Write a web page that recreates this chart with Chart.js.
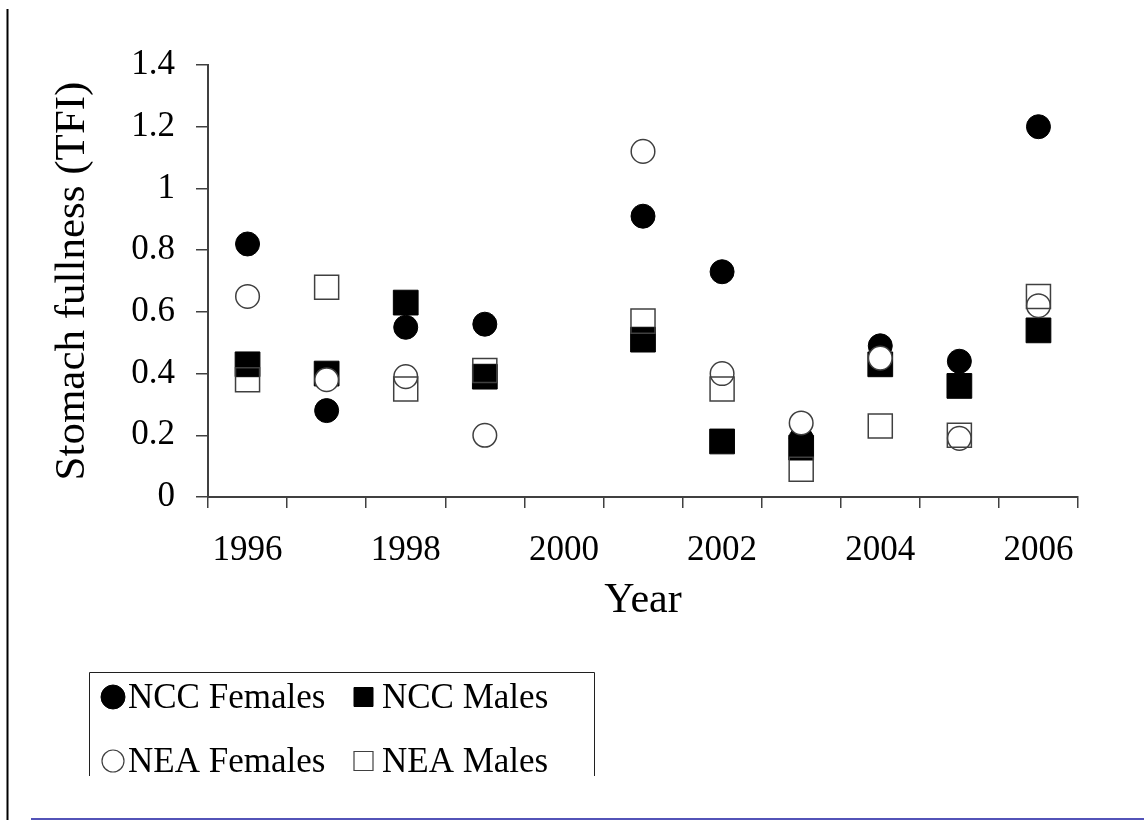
<!DOCTYPE html>
<html>
<head>
<meta charset="utf-8">
<script src="https://cdn.jsdelivr.net/npm/chart.js@4.4.1/dist/chart.umd.min.js"></script>
<style>
  html, body { margin: 0; padding: 0; background: #ffffff; }
  #wrap { width: 1144px; height: 820px; position: relative; }
  canvas { display: block; }
</style>
</head>
<body>
<div id="wrap"><canvas id="c" width="1144" height="820"></canvas></div>
<script>
// ---- data ----
const categories = ['1996','1997','1998','1999','2000','2001','2002','2003','2004','2005','2006'];
const tickLabels = ['1996','1998','2000','2002','2004','2006'];
const yTickValues = [0, 0.2, 0.4, 0.6, 0.8, 1, 1.2, 1.4];
const seriesNames = ['NCC Females', 'NCC Males', 'NEA Females', 'NEA Males'];
const nccFemales = [0.82, 0.28, 0.55, 0.56, null, 0.91, 0.73, 0.19, 0.49, 0.44, 1.20];
const nccMales   = [0.43, 0.40, 0.63, 0.39, null, 0.51, 0.18, 0.16, 0.43, 0.36, 0.54];
const neaFemales = [0.65, 0.38, 0.39, 0.20, null, 1.12, 0.40, 0.24, 0.45, 0.19, 0.62];
const neaMales   = [0.38, 0.68, 0.35, 0.41, null, 0.57, 0.35, 0.09, 0.23, 0.20, 0.65];
const yTitle = 'Stomach fullness (TFI)';
const xTitle = 'Year';

const SERIF = "'Liberation Serif', 'Times New Roman', serif";
const AXIS = '#404040';

function ds(label, data, style, filled, radius, order) {
  return {
    label: label,
    data: data,
    showLine: false,
    pointStyle: style,
    pointRadius: radius,
    pointHoverRadius: radius,
    pointBackgroundColor: filled ? '#000000' : (style === 'rect' ? 'rgba(0,0,0,0)' : '#ffffff'),
    pointBorderColor: filled ? '#000000' : AXIS,
    pointBorderWidth: filled ? 1 : 1.5,
    pointHoverBorderWidth: filled ? 1 : 1.5,
    backgroundColor: filled ? '#000000' : '#ffffff',
    borderColor: filled ? '#000000' : AXIS,
    order: order
  };
}

// decorations: frame lines and the (clipped) legend box
const decoPlugin = {
  id: 'deco',
  afterDraw(chart) {
    const ctx = chart.ctx;
    ctx.save();
    // left frame line
    ctx.strokeStyle = '#000000';
    ctx.lineWidth = 2;
    ctx.beginPath(); ctx.moveTo(7.5, 9); ctx.lineTo(7.5, 820); ctx.stroke();
    // bottom blue line
    ctx.strokeStyle = '#1a1aa0';
    ctx.lineWidth = 1.5;
    ctx.beginPath(); ctx.moveTo(31, 819); ctx.lineTo(1144, 819); ctx.stroke();

    // legend box (clipped at bottom)
    const L = 89.5, R = 594.5, T = 672.5, B = 776;
    ctx.strokeStyle = '#202020';
    ctx.lineWidth = 1;
    ctx.beginPath();
    ctx.moveTo(L, B); ctx.lineTo(L, T); ctx.lineTo(R, T); ctx.lineTo(R, B);
    ctx.stroke();
    ctx.save();
    ctx.beginPath(); ctx.rect(L, T, R - L, B - T); ctx.clip();
    const cols = [113, 363.5];
    const textX = [128, 382];
    const rows = [697, 761];
    chart.data.datasets.forEach((d, i) => {
      const cx = cols[i % 2], cy = rows[Math.floor(i / 2)];
      const filled = d.pointBackgroundColor === '#000000';
      ctx.fillStyle = filled ? '#000000' : '#ffffff';
      ctx.strokeStyle = d.pointBorderColor;
      ctx.lineWidth = filled ? 1 : 1.2;
      ctx.beginPath();
      if (d.pointStyle === 'circle') {
        const r = filled ? 12 : 11;
        ctx.arc(cx, cy, r, 0, Math.PI * 2);
      } else {
        const h = 9.5;
        ctx.rect(cx - h, cy - h, 2 * h, 2 * h);
      }
      ctx.fill(); ctx.stroke();
      ctx.fillStyle = '#000000';
      ctx.font = '35px ' + SERIF;
      ctx.textAlign = 'left';
      ctx.textBaseline = 'alphabetic';
      ctx.fillText(d.label, textX[i % 2], cy + 11);
    });
    ctx.restore();
    ctx.restore();
  }
};

new Chart(document.getElementById('c'), {
  type: 'line',
  data: {
    labels: categories,
    datasets: [
      ds(seriesNames[0], nccFemales, 'circle', true, 12, 3),
      ds(seriesNames[1], nccMales, 'rect', true, 17.5, 2),
      ds(seriesNames[2], neaFemales, 'circle', false, 11.8, 1),
      ds(seriesNames[3], neaMales, 'rect', false, 17, 0)
    ]
  },
  options: {
    responsive: false,
    animation: false,
    events: [],
    layout: { padding: { left: 0, right: 66, top: 65, bottom: 163 } },
    plugins: {
      legend: { display: false },
      tooltip: { enabled: false }
    },
    scales: {
      x: {
        type: 'category',
        offset: true,
        afterFit(s) { s.height = 160; },
        grid: {
          offset: true,
          drawOnChartArea: false,
          drawTicks: true,
          tickLength: 11,
          lineWidth: 1.5,
          color: (c) => (c.index >= categories.length ? 'rgba(0,0,0,0)' : AXIS)
        },
        border: { display: true, color: AXIS, width: 2 },
        ticks: {
          autoSkip: false,
          maxRotation: 0,
          minRotation: 0,
          padding: 22,
          color: '#000000',
          font: { family: SERIF, size: 35 },
          callback(v, i) {
            const lab = categories[i];
            return tickLabels.includes(lab) ? lab : '';
          }
        },
        title: {
          display: true,
          text: xTitle,
          color: '#000000',
          font: { family: SERIF, size: 42 },
          padding: { top: 0, bottom: 31 }
        }
      },
      y: {
        min: 0,
        max: 1.4,
        afterFit(s) { s.width = 208; },
        afterBuildTicks(s) { s.ticks = yTickValues.map(v => ({ value: v })); },
        grid: {
          drawOnChartArea: false,
          drawTicks: true,
          tickLength: 12,
          lineWidth: 1.5,
          color: AXIS
        },
        border: { display: true, color: AXIS, width: 2 },
        ticks: {
          padding: 21,
          color: '#000000',
          font: { family: SERIF, size: 35 },
          callback(v) { return String(Number(v.toFixed(1))); }
        },
        title: {
          display: true,
          text: yTitle,
          color: '#000000',
          font: { family: SERIF, size: 43 },
          padding: { top: 47, bottom: 0 }
        }
      }
    }
  },
  plugins: [decoPlugin]
});
</script>
</body>
</html>
